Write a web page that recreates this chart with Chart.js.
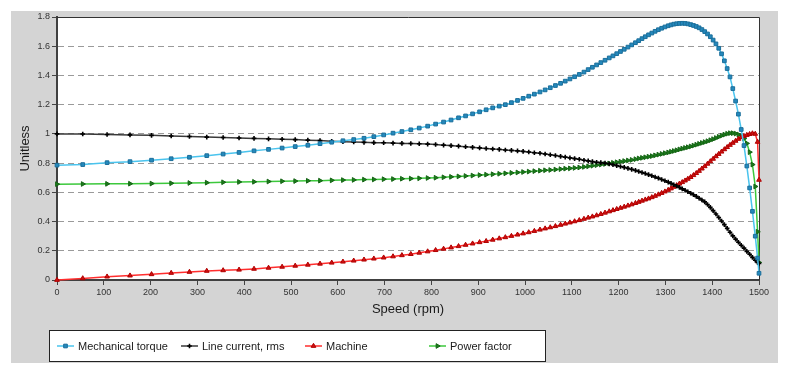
<!DOCTYPE html>
<html>
<head>
<meta charset="utf-8">
<script src="https://cdn.jsdelivr.net/npm/chart.js@4/dist/chart.umd.min.js"></script>
<style>
  html, body { margin: 0; padding: 0; background: #fff; }
  #wrap { width: 792px; height: 387px; position: relative; }
</style>
</head>
<body>
<div id="wrap"><canvas id="motorChart"></canvas></div>
<script>
const FONT = "'Liberation Sans', Arial, sans-serif";

const speed = [
  0, 55, 107, 156, 202, 244, 283, 320, 355, 389,
  421, 452, 481, 509, 536, 562, 587, 611, 634, 656,
  677, 698, 718, 737, 756, 774, 792, 809, 826, 842,
  858, 873, 888, 903, 917, 931, 945, 958, 971, 984,
  996, 1008, 1020, 1032, 1043, 1054, 1065, 1076, 1086, 1096,
  1106, 1116, 1126, 1135, 1144, 1153, 1162, 1171, 1180, 1188,
  1196, 1204, 1212, 1220, 1228, 1236, 1243, 1250, 1257, 1264,
  1271, 1278, 1285, 1292, 1299, 1306, 1312, 1318, 1324, 1330,
  1336, 1342, 1348, 1354, 1360, 1366, 1372, 1378, 1384, 1390,
  1396, 1402, 1408, 1414, 1420, 1426, 1432, 1438, 1444, 1450,
  1456, 1462, 1468, 1474, 1480, 1486, 1492, 1497, 1500
];

const torque = [
  0.786, 0.790, 0.803, 0.810, 0.820, 0.830, 0.840, 0.851, 0.862, 0.873,
  0.884, 0.894, 0.903, 0.913, 0.922, 0.933, 0.943, 0.953, 0.961, 0.970,
  0.981, 0.993, 1.005, 1.016, 1.028, 1.040, 1.053, 1.067, 1.081, 1.095,
  1.110, 1.123, 1.137, 1.151, 1.165, 1.178, 1.190, 1.200, 1.214, 1.229,
  1.243, 1.258, 1.272, 1.287, 1.301, 1.316, 1.331, 1.346, 1.361, 1.376,
  1.391, 1.407, 1.423, 1.440, 1.456, 1.472, 1.488, 1.504, 1.520, 1.534,
  1.549, 1.564, 1.579, 1.594, 1.609, 1.624, 1.638, 1.652, 1.665, 1.678,
  1.690, 1.702, 1.713, 1.723, 1.732, 1.740, 1.746, 1.751, 1.754, 1.756,
  1.757, 1.756, 1.753, 1.748, 1.742, 1.735, 1.726, 1.714, 1.700, 1.684,
  1.665, 1.642, 1.616, 1.586, 1.548, 1.500, 1.447, 1.390, 1.310, 1.225,
  1.135, 1.030, 0.920, 0.780, 0.630, 0.470, 0.300, 0.150, 0.046
];

const lineCurrent = [
  1.000, 0.999, 0.996, 0.993, 0.990, 0.986, 0.982, 0.978, 0.975, 0.972,
  0.969, 0.966, 0.963, 0.961, 0.957, 0.954, 0.950, 0.947, 0.945, 0.942,
  0.940, 0.939, 0.937, 0.935, 0.934, 0.932, 0.930, 0.927, 0.923, 0.920,
  0.916, 0.912, 0.908, 0.904, 0.900, 0.897, 0.894, 0.890, 0.887, 0.884,
  0.880, 0.876, 0.871, 0.867, 0.862, 0.857, 0.852, 0.846, 0.841, 0.836,
  0.831, 0.826, 0.820, 0.815, 0.810, 0.806, 0.803, 0.800, 0.795, 0.789,
  0.783, 0.777, 0.771, 0.764, 0.757, 0.750, 0.743, 0.736, 0.729, 0.721,
  0.713, 0.705, 0.697, 0.688, 0.679, 0.670, 0.661, 0.652, 0.643, 0.634,
  0.624, 0.614, 0.604, 0.594, 0.583, 0.572, 0.560, 0.548, 0.535, 0.517,
  0.497, 0.475, 0.452, 0.428, 0.404, 0.379, 0.353, 0.327, 0.302, 0.280,
  0.258, 0.238, 0.218, 0.196, 0.176, 0.155, 0.135, 0.120, 0.114
];

const machine = [
  0.000, 0.011, 0.023, 0.030, 0.039, 0.048, 0.055, 0.062, 0.066, 0.070,
  0.076, 0.083, 0.090, 0.097, 0.104, 0.111, 0.118, 0.125, 0.132, 0.139,
  0.146, 0.153, 0.161, 0.169, 0.177, 0.186, 0.195, 0.204, 0.213, 0.222,
  0.231, 0.240, 0.249, 0.258, 0.266, 0.275, 0.284, 0.292, 0.301, 0.310,
  0.318, 0.326, 0.335, 0.344, 0.352, 0.360, 0.368, 0.377, 0.385, 0.393,
  0.401, 0.409, 0.418, 0.426, 0.434, 0.442, 0.451, 0.460, 0.469, 0.477,
  0.485, 0.493, 0.501, 0.509, 0.517, 0.526, 0.534, 0.542, 0.550, 0.557,
  0.566, 0.575, 0.585, 0.595, 0.605, 0.616, 0.626, 0.637, 0.648, 0.659,
  0.669, 0.680, 0.692, 0.704, 0.717, 0.731, 0.746, 0.762, 0.778, 0.795,
  0.812, 0.829, 0.846, 0.862, 0.878, 0.894, 0.909, 0.924, 0.938, 0.952,
  0.965, 0.976, 0.985, 0.992, 0.998, 1.003, 1.000, 0.945, 0.685
];

const powerFactor = [
  0.656, 0.657, 0.658, 0.659, 0.660, 0.662, 0.664, 0.666, 0.669, 0.671,
  0.672, 0.674, 0.676, 0.677, 0.679, 0.680, 0.682, 0.684, 0.685, 0.687,
  0.688, 0.690, 0.691, 0.693, 0.694, 0.696, 0.698, 0.700, 0.703, 0.706,
  0.709, 0.712, 0.715, 0.718, 0.721, 0.724, 0.727, 0.730, 0.733, 0.736,
  0.739, 0.742, 0.745, 0.748, 0.751, 0.753, 0.756, 0.759, 0.762, 0.764,
  0.767, 0.770, 0.774, 0.778, 0.782, 0.786, 0.790, 0.794, 0.798, 0.802,
  0.806, 0.810, 0.814, 0.818, 0.822, 0.827, 0.832, 0.836, 0.840, 0.844,
  0.848, 0.853, 0.858, 0.863, 0.868, 0.873, 0.878, 0.883, 0.888, 0.894,
  0.899, 0.904, 0.909, 0.914, 0.920, 0.926, 0.932, 0.938, 0.944, 0.950,
  0.957, 0.964, 0.972, 0.980, 0.988, 0.995, 1.001, 1.005, 1.005, 1.002,
  0.996, 0.985, 0.968, 0.935, 0.875, 0.790, 0.640, 0.330, 0.120
];

const seriesLabels = ["Mechanical torque", "Line current, rms", "Machine", "Power factor"];

function pts(values) {
  return speed.map((s, i) => ({ x: s, y: values[i] }));
}

// gray panel + white plot area behind everything
const panelBg = {
  id: "panelBg",
  beforeDraw(chart) {
    const { ctx, chartArea: a } = chart;
    ctx.save();
    ctx.fillStyle = "#ffffff";
    ctx.fillRect(0, 0, chart.width, chart.height);
    ctx.fillStyle = "#d4d4d4";
    ctx.fillRect(11, 11, 767, 352);
    ctx.fillStyle = "#ffffff";
    ctx.fillRect(a.left, a.top, a.right - a.left, a.bottom - a.top);
    ctx.restore();
  },
  beforeDatasetsDraw(chart) {
    const { ctx, chartArea: a } = chart;
    ctx.save();
    ctx.strokeStyle = "#333";
    ctx.lineWidth = 1;
    ctx.beginPath();
    ctx.moveTo(a.left, a.top + 0.5);
    ctx.lineTo(a.right + 0.5, a.top + 0.5);
    ctx.lineTo(a.right + 0.5, a.bottom);
    ctx.stroke();
    ctx.restore();
  }
};

// boxed legend with fixed columns
const boxLegend = {
  id: "boxLegend",
  afterDraw(chart) {
    const { ctx } = chart;
    ctx.save();
    ctx.fillStyle = "#fff";
    ctx.fillRect(49.5, 330.5, 496, 31);
    ctx.strokeStyle = "#222";
    ctx.lineWidth = 1;
    ctx.strokeRect(49.5, 330.5, 496, 31);
    const y = 346;
    chart.data.datasets.forEach((ds, i) => {
      const x0 = 57 + i * 124;
      ctx.strokeStyle = ds.borderColor;
      ctx.lineWidth = 1.5;
      ctx.beginPath();
      ctx.moveTo(x0, y);
      ctx.lineTo(x0 + 17, y);
      ctx.stroke();
      ctx.fillStyle = ds.pointBackgroundColor;
      ctx.strokeStyle = ds.pointBorderColor;
      ctx.lineWidth = ds.pointBorderWidth;
      Chart.helpers.drawPoint(ctx, {
        pointStyle: ds.pointStyle,
        rotation: ds.pointRotation || 0,
        radius: ds.pointRadius,
        borderWidth: ds.pointBorderWidth
      }, x0 + 8.5, y);
      ctx.fillStyle = "#1a1a1a";
      ctx.font = "11px " + FONT;
      ctx.textBaseline = "middle";
      ctx.textAlign = "left";
      ctx.fillText(ds.label, x0 + 21, y + 0.5);
    });
    ctx.restore();
  }
};

const ctx = document.getElementById("motorChart").getContext("2d");
new Chart(ctx, {
  type: "line",
  data: {
    datasets: [
      {
        label: seriesLabels[0],
        data: pts(torque),
        borderColor: "#4ac4ee",
        borderWidth: 1.5,
        pointStyle: "rect",
        pointRadius: 2.6,
        pointBackgroundColor: "#2489bd",
        pointBorderColor: "#1b6e9a",
        pointBorderWidth: 1,
        clip: 8
      },
      {
        label: seriesLabels[1],
        data: pts(lineCurrent),
        borderColor: "#3a3a3a",
        borderWidth: 1.5,
        pointStyle: "cross",
        pointRadius: 2.3,
        pointBackgroundColor: "#000",
        pointBorderColor: "#000",
        pointBorderWidth: 1.6,
        clip: 8
      },
      {
        label: seriesLabels[2],
        data: pts(machine),
        borderColor: "#ff2e2e",
        borderWidth: 1.5,
        pointStyle: "triangle",
        pointRadius: 2.7,
        pointBackgroundColor: "#cf1111",
        pointBorderColor: "#b00000",
        pointBorderWidth: 1,
        clip: 8
      },
      {
        label: seriesLabels[3],
        data: pts(powerFactor),
        borderColor: "#3cc83c",
        borderWidth: 1.5,
        pointStyle: "triangle",
        pointRotation: 90,
        pointRadius: 2.7,
        pointBackgroundColor: "#1c7a1c",
        pointBorderColor: "#146414",
        pointBorderWidth: 1,
        clip: 8
      }
    ]
  },
  options: {
    animation: false,
    responsive: true,
    maintainAspectRatio: false,
    layout: { padding: { left: 0, top: 17, right: 33, bottom: 67 } },
    plugins: {
      legend: { display: false },
      tooltip: { enabled: false }
    },
    elements: { line: { tension: 0 } },
    scales: {
      x: {
        type: "linear",
        min: 0,
        max: 1500,
        afterFit: (s) => { s.height = 40; },
        ticks: {
          stepSize: 100,
          padding: 2,
          maxRotation: 0,
          color: "#333",
          font: { family: FONT, size: 9 },
          callback: (v) => String(v)
        },
        grid: {
          drawOnChartArea: false,
          drawTicks: true,
          tickLength: 5,
          tickColor: "#444"
        },
        border: { color: "#404040", width: 2 },
        title: {
          display: true,
          text: "Speed (rpm)",
          color: "#1a1a1a",
          font: { family: FONT, size: 13 },
          padding: { top: 0, bottom: 3 }
        }
      },
      y: {
        min: 0,
        max: 1.8,
        afterFit: (s) => { s.width = 57; },
        ticks: {
          stepSize: 0.2,
          padding: 2,
          color: "#333",
          font: { family: FONT, size: 9 },
          callback: (v) => String(Number(v.toFixed(1)))
        },
        grid: {
          color: (c) => (c.tick && c.tick.value > 0.05 && c.tick.value < 1.75) ? "#9a9a9a" : "rgba(0,0,0,0)",
          lineWidth: 1,
          tickColor: "#444",
          tickLength: 5,
          tickBorderDash: []
        },
        border: { color: "#404040", width: 2, dash: [6, 4] },
        title: {
          display: true,
          text: "Unitless",
          color: "#1a1a1a",
          font: { family: FONT, size: 13 },
          padding: { top: 18, bottom: 0 }
        }
      }
    }
  },
  plugins: [panelBg, boxLegend]
});
</script>
</body>
</html>
